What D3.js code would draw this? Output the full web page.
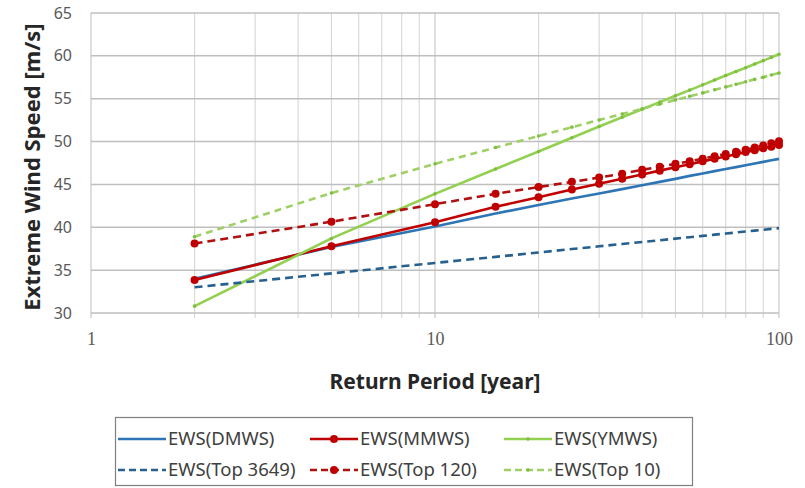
<!DOCTYPE html>
<html>
<head>
<meta charset="utf-8">
<script src="https://cdn.jsdelivr.net/npm/d3@7"></script>
<style>
  html, body { margin: 0; padding: 0; background: #fff; }
  svg { display: block; }
</style>
</head>
<body>
<svg id="chart" width="805" height="488"></svg>
<script>
// Return periods (years)
const periods = [2, 5, 10, 15, 20, 25, 30, 35, 40, 45, 50, 55, 60, 65, 70, 75, 80, 85, 90, 95, 100];

// Series values (m/s)
const ewsDMWS   = [34.0, 37.7, 40.1, 41.6, 42.6, 43.35, 43.95, 44.45, 44.9, 45.3, 45.65, 46.0, 46.28, 46.55, 46.8, 47.02, 47.24, 47.44, 47.63, 47.81, 47.98];
const ewsMMWS   = [33.85, 37.8, 40.6, 42.4, 43.5, 44.4, 45.07, 45.66, 46.16, 46.61, 47.0, 47.36, 47.69, 47.99, 48.27, 48.53, 48.77, 48.99, 49.21, 49.41, 49.6];
const ewsYMWS   = [30.8, 38.7, 43.9, 46.8, 48.85, 50.45, 51.75, 52.83, 53.77, 54.6, 55.34, 56.0, 56.62, 57.18, 57.7, 58.18, 58.62, 59.05, 59.44, 59.82, 60.18];
const ewsTop3649 = [33.0, 34.62, 35.84, 36.55, 37.06, 37.46, 37.78, 38.05, 38.28, 38.49, 38.68, 38.84, 39.0, 39.14, 39.27, 39.39, 39.51, 39.61, 39.71, 39.81, 39.9];
const ewsTop120 = [38.1, 40.65, 42.7, 43.9, 44.7, 45.3, 45.8, 46.25, 46.7, 47.05, 47.4, 47.7, 48.0, 48.3, 48.55, 48.8, 49.05, 49.3, 49.55, 49.8, 50.05];
const ewsTop10  = [38.9, 44.0, 47.4, 49.3, 50.65, 51.68, 52.51, 53.22, 53.83, 54.37, 54.85, 55.28, 55.68, 56.04, 56.38, 56.69, 56.98, 57.26, 57.51, 57.76, 58.0];

const seriesNames = ["EWS(DMWS)", "EWS(MMWS)", "EWS(YMWS)", "EWS(Top 3649)", "EWS(Top 120)", "EWS(Top 10)"];

// Axis ticks
const yTicks = [30, 35, 40, 45, 50, 55, 60, 65];
const xTickLabels = [1, 10, 100];
const xGrid = [1, 2, 3, 4, 5, 6, 7, 8, 9, 10, 20, 30, 40, 50, 60, 70, 80, 90, 100];

const series = [
  { name: seriesNames[0], values: ewsDMWS,    color: "#2e75b6", dash: null,  marker: null },
  { name: seriesNames[1], values: ewsMMWS,    color: "#c00000", dash: null,  marker: "big" },
  { name: seriesNames[2], values: ewsYMWS,    color: "#92d050", dash: null,  marker: "small" },
  { name: seriesNames[3], values: ewsTop3649, color: "#25608f", dash: "8,5", marker: null },
  { name: seriesNames[4], values: ewsTop120,  color: "#b01010", dash: "8,5", marker: "big" },
  { name: seriesNames[5], values: ewsTop10,   color: "#9fd066", dash: "7,5", marker: "small" }
];

const svg = d3.select("#chart");

const x = d3.scaleLog().domain([1, 100]).range([91, 779]);
const y = d3.scaleLinear().domain([30, 65]).range([313, 13]);

// Vertical gridlines
svg.append("g").selectAll("line").data(xGrid).join("line")
  .attr("x1", d => x(d)).attr("x2", d => x(d))
  .attr("y1", y(65)).attr("y2", y(30) + 5)
  .attr("stroke", d => (d === 1 || d === 10 || d === 100) ? "#c8c8c8" : "#d9d9d9")
  .attr("stroke-width", 1.2);

// Horizontal gridlines
svg.append("g").selectAll("line").data(yTicks).join("line")
  .attr("x1", x(1)).attr("x2", x(100))
  .attr("y1", d => y(d)).attr("y2", d => y(d))
  .attr("stroke", "#bfbfbf")
  .attr("stroke-width", 1.5);

// Y axis labels
const yAxis = d3.axisLeft(y).tickValues(yTicks).tickSize(0).tickPadding(19);
const gy = svg.append("g").attr("transform", `translate(${x(1)},0)`).call(yAxis);
gy.select(".domain").remove();
gy.selectAll("text").attr("font-family", "'Noto Sans', sans-serif").attr("font-size", 16).attr("fill", "#595959");

// X axis labels
const xAxis = d3.axisBottom(x).tickValues(xTickLabels).tickFormat(d3.format("d")).tickSize(0).tickPadding(19);
const gx = svg.append("g").attr("transform", `translate(0,${y(30)})`).call(xAxis);
gx.select(".domain").remove();
gx.selectAll("text").attr("font-family", "'Liberation Serif', serif").attr("font-size", 18).attr("fill", "#595959");

// Axis titles
svg.append("text")
  .attr("transform", `translate(40,${(y(30) + y(65)) / 2 + 4}) rotate(-90)`)
  .attr("text-anchor", "middle")
  .attr("font-family", "'Noto Sans', sans-serif").attr("font-weight", "bold").attr("font-size", 22)
  .attr("fill", "#262626")
  .text("Extreme Wind Speed [m/s]");

svg.append("text")
  .attr("x", (x(1) + x(100)) / 2).attr("y", 389)
  .attr("text-anchor", "middle")
  .attr("font-family", "'Noto Sans', sans-serif").attr("font-weight", "bold").attr("font-size", 21)
  .attr("fill", "#262626")
  .text("Return Period [year]");

// Lines
const line = d3.line().x((d, i) => x(periods[i])).y(d => y(d));
const gLines = svg.append("g");
series.forEach(s => {
  gLines.append("path")
    .attr("d", line(s.values))
    .attr("fill", "none")
    .attr("stroke", s.color)
    .attr("stroke-width", 2.6)
    .attr("stroke-dasharray", s.dash);
});
// Markers
series.forEach(s => {
  if (!s.marker) return;
  gLines.append("g").selectAll("circle").data(s.values).join("circle")
    .attr("cx", (d, i) => x(periods[i])).attr("cy", d => y(d))
    .attr("r", s.marker === "big" ? 4 : 1.8)
    .attr("fill", s.marker === "big" ? "#c00000" : "#7fbf3f");
});

// Legend
const lg = svg.append("g");
lg.append("rect").attr("x", 115.5).attr("y", 417.5).attr("width", 577).attr("height", 68)
  .attr("fill", "#fff").attr("stroke", "#7f7f7f").attr("stroke-width", 1.2);
const colX = [118, 310, 504];
const rowY = [439, 470];
series.forEach((s, i) => {
  const cx = colX[i % 3], cy = rowY[Math.floor(i / 3)];
  lg.append("line").attr("x1", cx).attr("x2", cx + 48).attr("y1", cy).attr("y2", cy)
    .attr("stroke", s.color).attr("stroke-width", 2.6).attr("stroke-dasharray", s.dash ? "7,4" : null);
  if (s.marker) {
    lg.append("circle").attr("cx", cx + 24).attr("cy", cy)
      .attr("r", s.marker === "big" ? 4 : 1.8)
      .attr("fill", s.marker === "big" ? "#c00000" : "#7fbf3f");
  }
  lg.append("text").attr("x", cx + 50).attr("y", cy).attr("dy", "0.35em")
    .attr("font-family", "'Noto Sans', sans-serif").attr("font-size", 18.5).attr("fill", "#404040")
    .text(s.name);
});
</script>
</body>
</html>
